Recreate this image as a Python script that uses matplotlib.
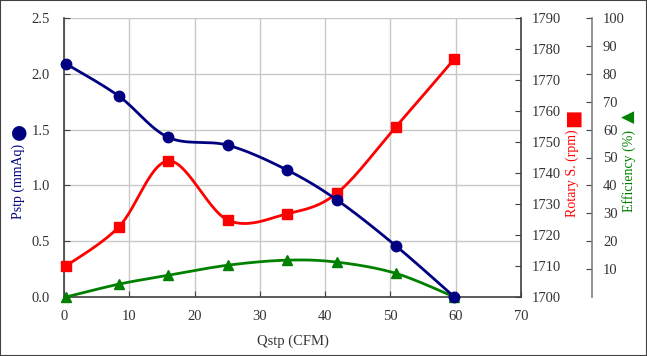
import numpy as np
import matplotlib
matplotlib.use('Agg')
import matplotlib.pyplot as plt
from matplotlib.patches import Rectangle

# data
qstp = [0.3, 8.4, 16.0, 25.1, 34.1, 41.8, 50.8, 59.8]
pstp = [2.09, 1.80, 1.43, 1.36, 1.14, 0.87, 0.46, 0.0]
rotary = [1710.0, 1722.6, 1743.9, 1724.8, 1726.8, 1733.5, 1754.8, 1776.8]
efficiency = [0.0, 4.6, 7.8, 11.4, 13.2, 12.5, 8.5, 0.0]

x_ticks = list(range(0, 71, 10))
p_ticks = [0.0, 0.5, 1.0, 1.5, 2.0, 2.5]
r_ticks = list(range(1700, 1791, 10))
e_ticks = list(range(10, 101, 10))

NAVY = '#000080'
RED = '#ff0000'
GREEN = '#008000'
SPINE = '#404040'
FONT = ['Liberation Serif', 'DejaVu Serif']

plt.rcParams['font.family'] = FONT
plt.rcParams['font.size'] = 10.5


def smooth(xs, ys, xlim, ylim, n=30):
    # excel-like smoothed line (bezier through the points), done in normalised space
    xs = (np.asarray(xs) - xlim[0]) / (xlim[1] - xlim[0])
    ys = (np.asarray(ys) - ylim[0]) / (ylim[1] - ylim[0])
    P = np.column_stack([xs, ys])
    out = []
    for i in range(len(P) - 1):
        p0 = P[i - 1] if i > 0 else P[i]
        p1, p2 = P[i], P[i + 1]
        p3 = P[i + 2] if i + 2 < len(P) else P[i + 1]
        c1 = p1 + (p2 - p0) / 6.0
        c2 = p2 - (p3 - p1) / 6.0
        t = np.linspace(0, 1, n)[:, None]
        seg = (1 - t) ** 3 * p1 + 3 * (1 - t) ** 2 * t * c1 + 3 * (1 - t) * t ** 2 * c2 + t ** 3 * p2
        out.append(seg if i == 0 else seg[1:])
    out = np.vstack(out)
    return (out[:, 0] * (xlim[1] - xlim[0]) + xlim[0],
            out[:, 1] * (ylim[1] - ylim[0]) + ylim[0])


fig = plt.figure(figsize=(6.47, 3.56), dpi=100)
fig.patches.append(Rectangle((0, 0), 1, 1, transform=fig.transFigure,
                             fill=False, edgecolor='#404040', lw=1.5))
ax = fig.add_axes([64 / 647, 1 - 297 / 356, 457 / 647, 279 / 356])
ax2 = ax.twinx()
ax3 = ax.twinx()

xlim = (0, 70)
ax.set_xlim(*xlim)
ax.set_ylim(0, 2.5)
ax2.set_ylim(1700, 1790)
ax3.set_ylim(0, 100)
ax3.spines['right'].set_position(('axes', 1.155))

# grid
ax.set_xticks(x_ticks)
ax.set_yticks(p_ticks)
ax.set_yticklabels(['%.1f' % v for v in p_ticks])
ax.grid(True, color='#c8c8c8', lw=1)
ax.set_axisbelow(True)

# lines
sx, sy = smooth(qstp, efficiency, xlim, (0, 100))
ax3.plot(sx, sy, color=GREEN, lw=2, zorder=3)
ax3.plot(qstp, efficiency, ls='none', marker='^', ms=7, color=GREEN, zorder=4, clip_on=False)

sx, sy = smooth(qstp, rotary, xlim, (1700, 1790))
ax2.plot(sx, sy, color=RED, lw=2, zorder=3)
ax2.plot(qstp, rotary, ls='none', marker='s', ms=7, color=RED, zorder=4, clip_on=False)

sx, sy = smooth(qstp, pstp, xlim, (0, 2.5))
ax3.plot(sx, sy * 40, color=NAVY, lw=2, zorder=5)
ax3.plot(qstp, np.array(pstp) * 40, ls='none', marker='o', ms=7.5, color=NAVY, zorder=6, clip_on=False)

# spines / ticks
for a in (ax, ax2, ax3):
    a.patch.set_visible(False)
    for s in a.spines.values():
        s.set_visible(False)
ax.spines['left'].set_visible(True)
ax.spines['bottom'].set_visible(True)
ax.spines['left'].set_color(SPINE)
ax.spines['bottom'].set_color(SPINE)
ax.spines['left'].set_linewidth(1.2)
ax.spines['bottom'].set_linewidth(1.2)
ax2.spines['right'].set_visible(True)
ax2.spines['right'].set_color(SPINE)
ax2.spines['right'].set_linewidth(1.2)
ax3.spines['right'].set_visible(True)
ax3.spines['right'].set_color('#808080')
ax3.spines['right'].set_linewidth(1.2)

ax.tick_params(axis='y', direction='in', length=4, color=SPINE, labelcolor='#333333', labelsize=10.5, pad=10)
ax.tick_params(axis='x', direction='in', length=4, color=SPINE, labelcolor='#333333', labelsize=10.5, pad=9)
ax2.set_yticks(r_ticks)
ax2.tick_params(direction='in', length=4, color=SPINE, labelcolor='#333333', labelsize=10.5, pad=8)
ax3.set_yticks(e_ticks)
ax3.tick_params(direction='in', length=4, color=SPINE, labelcolor='#333333', labelsize=10.5, pad=8)

ax.set_xlabel('Qstp (CFM)', color='#333333', fontsize=10.5, labelpad=9)

# axis titles with their marker symbols
fig.text(18 / 647, 1 - 181 / 356, 'Pstp (mmAq)', rotation=90, color=NAVY,
         fontsize=10, ha='center', va='center')
fig.text(18 / 647, 1 - 132 / 356, '\u25cf', rotation=90, color=NAVY,
         fontsize=14, ha='center', va='center', family=['DejaVu Sans'])
fig.text(572 / 647, 1 - 173 / 356, 'Rotary S. (rpm)', rotation=90, color=RED,
         fontsize=10, ha='center', va='center')
fig.text(572 / 647, 1 - 118 / 356, '\u25a0', rotation=90, color=RED,
         fontsize=14, ha='center', va='center', family=['DejaVu Sans'])
fig.text(629 / 647, 1 - 171 / 356, 'Efficiency (%)', rotation=90, color=GREEN,
         fontsize=10, ha='center', va='center')
fig.text(629 / 647, 1 - 117 / 356, '\u25b2', rotation=90, color=GREEN,
         fontsize=12, ha='center', va='center', family=['DejaVu Sans'])

fig.savefig('out.png', dpi=100)
